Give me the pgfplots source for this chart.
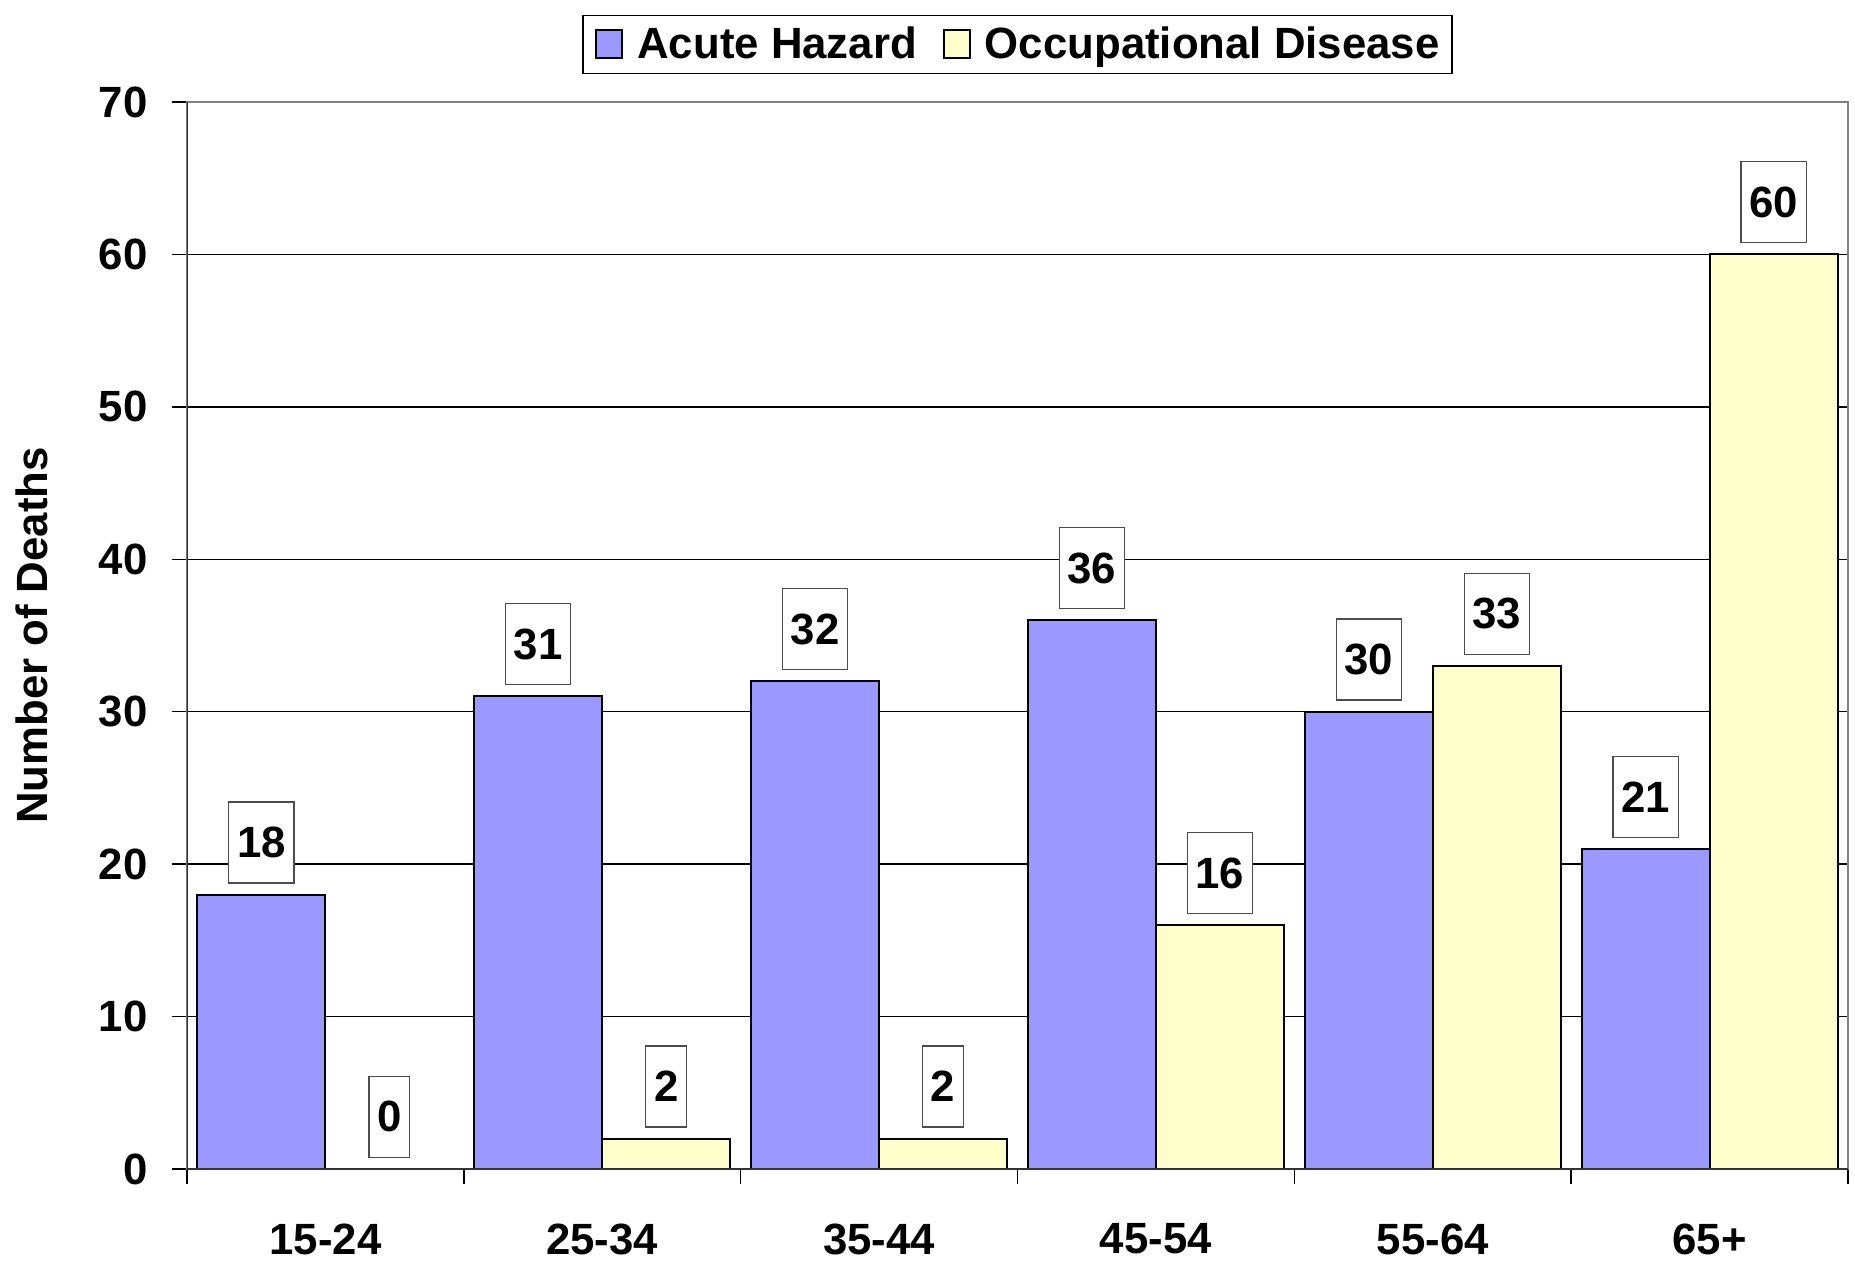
\documentclass[border=0pt]{standalone}
\usepackage{pgfplots}
\pgfplotsset{compat=1.18}
\usepackage{fontspec}
\setmainfont{Liberation Sans}
\definecolor{acute}{HTML}{9999FF}
\definecolor{occup}{HTML}{FFFFCC}
\newcommand\lbl{\fontsize{17.5}{21}\selectfont\bfseries}
\begin{document}
\begin{tikzpicture}
% 1 px of the reference = 0.4pt
\useasboundingbox (-74.8pt,-36.8pt) rectangle (667.2pt,467.6pt);
\begin{axis}[
    at={(0,0)}, anchor=south west,
    scale only axis,
    width=664.4pt, height=426.8pt,
    ybar=0pt, bar width=51.2pt,
    xmin=-0.5, xmax=5.5, ymin=0, ymax=70,
    enlargelimits=false,
    /pgf/number format/assume math mode=true,
    ytick={0,10,...,70},
    xtick={-0.5,0.5,...,5.5},
    xticklabels={},
    extra x ticks={0,1,2,3,4,5},
    extra x tick labels={15-24,25-34,35-44,45-54,55-64,65+},
    extra x tick style={major tick length=0pt, grid=none},
    xtick pos=bottom, ytick pos=left,
    xticklabel style={anchor=north, inner sep=0pt, yshift=-21.6pt},
    yticklabel style={anchor=east, inner sep=0pt, xshift=-9.6pt},
    tick label style={font=\lbl},
    tick align=outside,
    major tick length=6pt,
    tick style={black, line width=0.6pt},
    ymajorgrids,
    grid style={black, line width=0.6pt},
    axis line style={draw=gray, line width=0.8pt},
    ylabel={Number of Deaths},
    ylabel style={font=\lbl, at={(axis description cs:-0.0933,0.5)}, anchor=center},
    nodes near coords,
    every node near coord/.append style={font=\lbl, draw=black!70, line width=0.5pt,
        fill=white, anchor=south, yshift=4.4pt, inner xsep=3.3pt, inner ysep=0pt,
        minimum height=32.4pt, text=black},
    legend columns=2,
    legend style={at={(0.5,1)}, anchor=south, yshift=11.2pt, font=\lbl,
        draw=black, line width=0.6pt, inner xsep=5pt, inner ysep=4.5pt,
        nodes={inner sep=0pt, anchor=west},
        /tikz/every odd column/.append style={column sep=5.6pt},
        /tikz/every even column/.append style={column sep=10.4pt}},
    legend image code/.code={\draw[#1, line width=0.8pt] (0pt,-5.6pt) rectangle (10.4pt,5.6pt);},
]
\addplot[fill=acute, draw=black, line width=0.8pt] coordinates {
    (0,18) (1,31) (2,32) (3,36) (4,30) (5,21)
};
\addplot[fill=occup, draw=black, line width=0.8pt] coordinates {
    (0,0) (1,2) (2,2) (3,16) (4,33) (5,60)
};
\legend{Acute Hazard, Occupational Disease}
\draw[black!80, line width=0.8pt] (rel axis cs:0,1) -- (rel axis cs:0,0) -- (rel axis cs:1,0);
\end{axis}
\end{tikzpicture}
\end{document}
